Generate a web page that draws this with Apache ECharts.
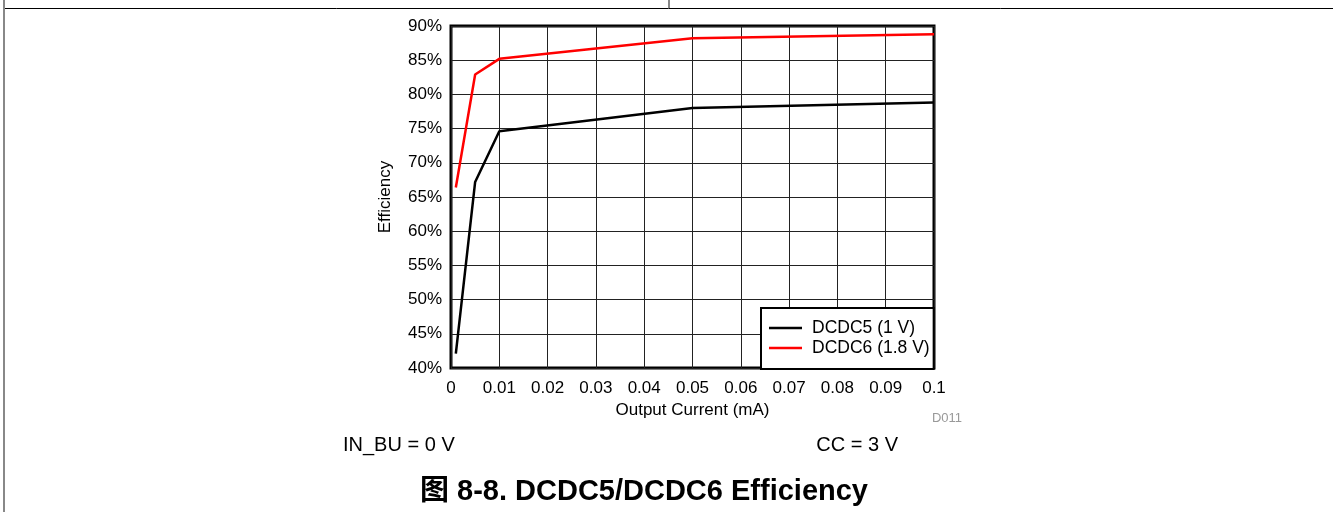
<!DOCTYPE html>
<html>
<head>
<meta charset="utf-8">
<title>DCDC5/DCDC6 Efficiency</title>
<script src="https://cdn.jsdelivr.net/npm/echarts@6/dist/echarts.min.js"></script>
<style>
  html, body { margin: 0; padding: 0; background: #fff; }
  #chart { width: 1333px; height: 512px; }
</style>
</head>
<body>
<div id="chart"></div>
<script>
// output current (mA) at each measured point
const currents = [0.001, 0.005, 0.01, 0.05, 0.1];
// efficiency in %
const dcdc5 = [42.1, 67.2, 74.6, 78.0, 78.8];
const dcdc6 = [66.4, 82.9, 85.2, 88.2, 88.8];
const seriesNames = ['DCDC5 (1 V)', 'DCDC6 (1.8 V)'];
const xTickLabels = ['0', '0.01', '0.02', '0.03', '0.04', '0.05', '0.06', '0.07', '0.08', '0.09', '0.1'];
const yTickLabels = ['40%', '45%', '50%', '55%', '60%', '65%', '70%', '75%', '80%', '85%', '90%'];

const FONT = '"Liberation Sans", Arial, sans-serif';
const chart = echarts.init(document.getElementById('chart'));

function pairs(ys) {
  return currents.map((x, i) => [x, ys[i]]);
}

const option = {
  animation: false,
  backgroundColor: '#fff',
  grid: {
    left: 451, top: 26, right: 399, bottom: 144,
    show: true,
    borderColor: '#000',
    borderWidth: 3
  },
  xAxis: {
    type: 'value',
    min: 0, max: 0.1, interval: 0.01,
    name: 'Output Current (mA)',
    nameLocation: 'middle',
    nameGap: 33,
    nameTextStyle: { fontFamily: FONT, fontSize: 17, color: '#000' },
    axisLine: { show: false },
    axisTick: { show: false },
    axisLabel: {
      margin: 12,
      fontFamily: FONT, fontSize: 17, color: '#000',
      showMinLabel: true, showMaxLabel: true,
      formatter: v => xTickLabels[Math.round(v / 0.01)]
    },
    splitLine: { show: true, lineStyle: { color: '#222', width: 1 } }
  },
  yAxis: {
    type: 'value',
    min: 40, max: 90, interval: 5,
    name: 'Efficiency',
    nameLocation: 'middle',
    nameGap: 57,
    nameTextStyle: { fontFamily: FONT, fontSize: 17, color: '#000' },
    axisLine: { show: false },
    axisTick: { show: false },
    axisLabel: {
      margin: 9,
      fontFamily: FONT, fontSize: 17, color: '#000',
      showMinLabel: true, showMaxLabel: true,
      formatter: v => yTickLabels[Math.round((v - 40) / 5)]
    },
    splitLine: { show: true, lineStyle: { color: '#222', width: 1 } }
  },
  legend: {
    orient: 'vertical',
    left: 761, top: 308,
    backgroundColor: '#fff',
    borderColor: '#000',
    borderWidth: 2,
    borderRadius: 0,
    padding: [11, 4, 12, 8],
    icon: 'rect',
    itemWidth: 33,
    itemHeight: 2.5,
    itemGap: 2,
    textStyle: { fontFamily: FONT, fontSize: 17.5, color: '#000', lineHeight: 17, padding: [0, 0, 0, 5] },
    data: seriesNames
  },
  series: [
    {
      name: seriesNames[0],
      type: 'line',
      symbol: 'none',
      lineStyle: { color: '#000', width: 2.5 },
      itemStyle: { color: '#000' },
      data: pairs(dcdc5)
    },
    {
      name: seriesNames[1],
      type: 'line',
      symbol: 'none',
      lineStyle: { color: '#ff0000', width: 2.5 },
      itemStyle: { color: '#ff0000' },
      data: pairs(dcdc6)
    }
  ],
  graphic: [
    // page frame
    { type: 'line', shape: { x1: 4, y1: 8.5, x2: 1333, y2: 8.5 }, style: { stroke: '#000', lineWidth: 1 } },
    { type: 'line', shape: { x1: 4, y1: 0, x2: 4, y2: 512 }, style: { stroke: '#888', lineWidth: 2 } },
    { type: 'line', shape: { x1: 669, y1: 0, x2: 669, y2: 8 }, style: { stroke: '#888', lineWidth: 2 } },
    // notes
    { type: 'text', x: 962, y: 418, style: { text: 'D011', font: '13px ' + FONT, fill: '#999', textAlign: 'right', align: 'right', textVerticalAlign: 'middle', verticalAlign: 'middle' } },
    { type: 'text', x: 343, y: 445, style: { text: 'IN_BU = 0 V', font: '20px ' + FONT, fill: '#000', textVerticalAlign: 'middle', verticalAlign: 'middle' } },
    { type: 'text', x: 898, y: 445, style: { text: 'CC = 3 V', font: '20px ' + FONT, fill: '#000', textAlign: 'right', align: 'right', textVerticalAlign: 'middle', verticalAlign: 'middle' } },
    { type: 'text', x: 644, y: 492, style: { text: '图 8-8. DCDC5/DCDC6 Efficiency', font: 'bold 29px "Liberation Sans", "Noto Sans CJK SC", sans-serif', fill: '#000', textAlign: 'center', align: 'center', textVerticalAlign: 'middle', verticalAlign: 'middle' } }
  ]
};

chart.setOption(option);
</script>
</body>
</html>
